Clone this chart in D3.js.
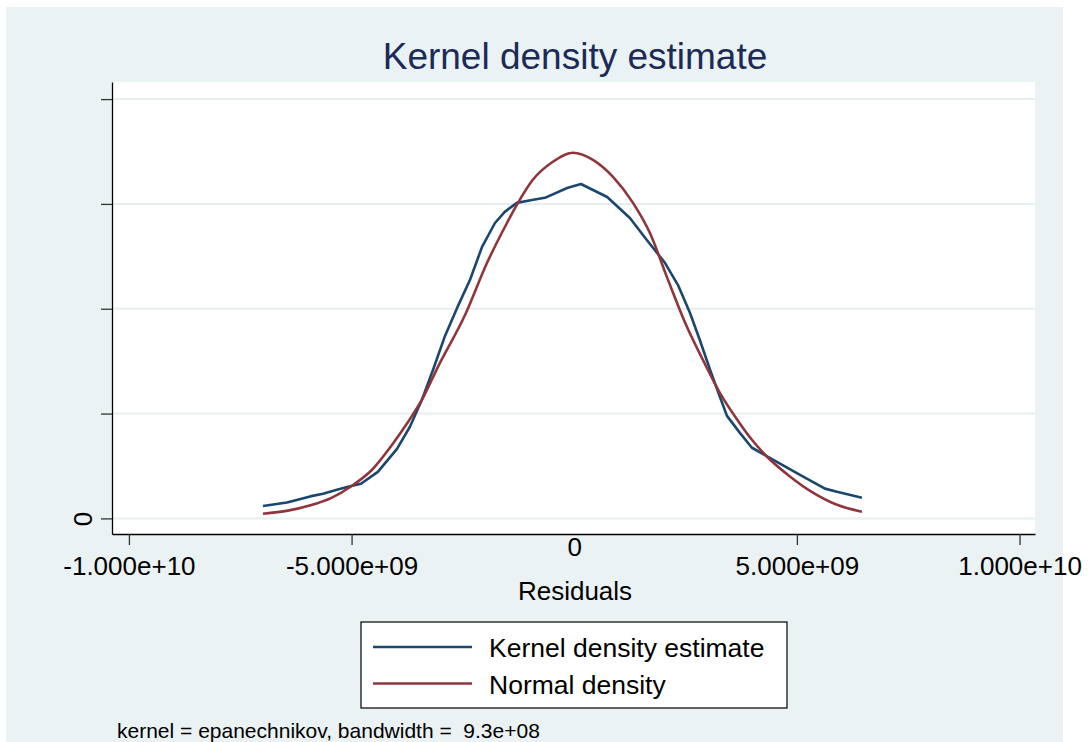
<!DOCTYPE html>
<html>
<head>
<meta charset="utf-8">
<script src="https://cdn.jsdelivr.net/npm/d3@7"></script>
<style>
  body { margin: 0; background: #ffffff; }
  svg text { font-family: "Liberation Sans", Arial, sans-serif; }
</style>
</head>
<body>
<div id="chart"></div>
<script>
// Kernel density estimate (epanechnikov)
const kdeResid = [-6.99e9, -6.45e9, -5.93e9, -5.64e9, -5.33e9, -5.08e9, -4.79e9, -4.41e9, -3.98e9, -3.69e9,
  -3.42e9, -3.17e9, -2.91e9, -2.63e9, -2.34e9, -2.07e9, -1.78e9, -1.56e9, -1.29e9, -0.95e9,
  -0.66e9, -0.16e9, 0.15e9, 0.74e9, 1.25e9, 1.63e9, 2.04e9, 2.33e9, 2.60e9, 2.82e9,
  3.05e9, 3.27e9, 3.43e9, 3.72e9, 3.99e9, 4.55e9, 5.07e9, 5.63e9, 5.90e9, 6.46e9];
const kdeDensity = [0.59e-11, 0.76e-11, 1.05e-11, 1.18e-11, 1.37e-11, 1.51e-11, 1.65e-11, 2.22e-11, 3.32e-11, 4.37e-11,
  5.66e-11, 7.09e-11, 8.66e-11, 10.04e-11, 11.38e-11, 12.95e-11, 14.09e-11, 14.62e-11, 15.05e-11, 15.19e-11,
  15.29e-11, 15.76e-11, 15.95e-11, 15.33e-11, 14.33e-11, 13.28e-11, 12.18e-11, 11.13e-11, 9.80e-11, 8.51e-11,
  7.09e-11, 5.80e-11, 4.89e-11, 4.08e-11, 3.37e-11, 2.70e-11, 2.08e-11, 1.42e-11, 1.27e-11, 0.99e-11];

// Normal density
const normResid = [-6.99e9, -6.43e9, -5.94e9, -5.44e9, -4.99e9, -4.54e9, -4.09e9, -3.73e9, -3.42e9, -3.06e9,
  -2.45e9, -1.96e9, -1.51e9, -1.29e9, -0.93e9, -0.48e9, -0.03e9, 0.42e9, 0.87e9, 1.32e9,
  1.70e9, 2.08e9, 2.53e9, 2.89e9, 3.27e9, 3.68e9, 3.99e9, 4.33e9, 4.85e9, 5.36e9,
  5.90e9, 6.46e9];
const normDensity = [0.22e-11, 0.37e-11, 0.61e-11, 0.99e-11, 1.56e-11, 2.32e-11, 3.51e-11, 4.61e-11, 5.66e-11, 7.23e-11,
  9.71e-11, 12.18e-11, 14.09e-11, 14.95e-11, 16.15e-11, 17.01e-11, 17.44e-11, 17.10e-11, 16.29e-11, 15.05e-11,
  13.61e-11, 11.52e-11, 9.14e-11, 7.56e-11, 5.99e-11, 4.65e-11, 3.75e-11, 2.94e-11, 1.99e-11, 1.23e-11,
  0.65e-11, 0.32e-11];

const xTicks = [-1e10, -5e9, 0, 5e9, 1e10];
const xTickLabels = ['-1.000e+10', '-5.000e+09', '0', '5.000e+09', '1.000e+10'];
const yTicks = [0, 5e-11, 10e-11, 15e-11, 20e-11];
const yTickLabels = ['0', '', '', '', ''];

const seriesNames = ['Kernel density estimate', 'Normal density'];
const titleText = 'Kernel density estimate';
const xTitle = 'Residuals';
const noteText = 'kernel = epanechnikov, bandwidth =  9.3e+08';

const width = 1091;
const height = 742;
const plot = { left: 112, right: 1035, top: 82, bottom: 534 };
const colors = ['#1a476f', '#90353b'];
const bgColor = '#eaf2f3';

const svg = d3.select('#chart')
  .append('svg')
  .attr('width', width)
  .attr('height', height);

// outer background
svg.append('rect')
  .attr('x', 6)
  .attr('y', 7)
  .attr('width', 1063 - 6)
  .attr('height', height - 7)
  .attr('fill', bgColor);

// plot region
svg.append('rect')
  .attr('x', plot.left)
  .attr('y', plot.top)
  .attr('width', plot.right - plot.left)
  .attr('height', plot.bottom - plot.top)
  .attr('fill', 'white');

const xScale = d3.scaleLinear()
  .domain([-10.38e9, 10.347e9])
  .range([plot.left, plot.right]);

const yScale = d3.scaleLinear()
  .domain([-0.744e-11, 20.815e-11])
  .range([plot.bottom, plot.top]);

// gridlines
svg.append('g')
  .selectAll('line')
  .data(yTicks)
  .enter()
  .append('line')
  .attr('x1', plot.left + 1)
  .attr('x2', plot.right)
  .attr('y1', d => yScale(d))
  .attr('y2', d => yScale(d))
  .attr('stroke', '#e6eef0')
  .attr('stroke-width', 2);

// x axis
const xAxis = svg.append('g')
  .attr('transform', `translate(0, ${plot.bottom})`)
  .call(d3.axisBottom(xScale)
    .tickValues(xTicks)
    .tickFormat((d, i) => xTickLabels[i])
    .tickSize(11)
    .tickSizeOuter(0));

xAxis.select('.domain').attr('stroke', '#000').attr('stroke-width', 1.3);
xAxis.selectAll('.tick line')
  .attr('stroke', '#333')
  .attr('stroke-width', 1.3)
  .attr('y2', d => d === 0 ? 0 : 11);
xAxis.selectAll('.tick text')
  .attr('y', d => d === 0 ? 22 : 41)
  .attr('dy', null)
  .attr('font-size', 26)
  .attr('fill', '#000');

// y axis
const yAxis = svg.append('g')
  .attr('transform', `translate(${plot.left}, 0)`)
  .call(d3.axisLeft(yScale)
    .tickValues(yTicks)
    .tickFormat((d, i) => yTickLabels[i])
    .tickSize(11)
    .tickSizeOuter(0));

yAxis.select('.domain').attr('stroke', '#000').attr('stroke-width', 1.3);
yAxis.selectAll('.tick line').attr('stroke', '#333').attr('stroke-width', 1.3);
yAxis.selectAll('.tick text')
  .attr('x', 0)
  .attr('dy', null)
  .attr('text-anchor', 'middle')
  .attr('transform', 'translate(-20, 0) rotate(-90)')
  .attr('font-size', 26)
  .attr('fill', '#000');

// curves
const kdeData = kdeResid.map((r, i) => ({ x: r, y: kdeDensity[i] }));
const normData = normResid.map((r, i) => ({ x: r, y: normDensity[i] }));

const kdeLine = d3.line()
  .x(d => xScale(d.x))
  .y(d => yScale(d.y));

const normLine = d3.line()
  .curve(d3.curveMonotoneX)
  .x(d => xScale(d.x))
  .y(d => yScale(d.y));

svg.append('path')
  .datum(kdeData)
  .attr('d', kdeLine)
  .attr('fill', 'none')
  .attr('stroke', colors[0])
  .attr('stroke-width', 2.6)
  .attr('stroke-linejoin', 'round');

svg.append('path')
  .datum(normData)
  .attr('d', normLine)
  .attr('fill', 'none')
  .attr('stroke', colors[1])
  .attr('stroke-width', 2.6)
  .attr('stroke-linejoin', 'round');

// title
svg.append('text')
  .attr('x', 575)
  .attr('y', 69)
  .attr('text-anchor', 'middle')
  .attr('font-size', 37)
  .attr('fill', '#1c2a57')
  .text(titleText);

// x axis title
svg.append('text')
  .attr('x', 575)
  .attr('y', 600)
  .attr('text-anchor', 'middle')
  .attr('font-size', 26)
  .attr('fill', '#000')
  .text(xTitle);

// legend
const legend = svg.append('g');

legend.append('rect')
  .attr('x', 361)
  .attr('y', 622)
  .attr('width', 787 - 361)
  .attr('height', 708 - 622)
  .attr('fill', 'white')
  .attr('stroke', '#000')
  .attr('stroke-width', 1.2);

seriesNames.forEach((name, i) => {
  const ly = 647 + i * 36.5;
  legend.append('line')
    .attr('x1', 373)
    .attr('x2', 472)
    .attr('y1', ly)
    .attr('y2', ly)
    .attr('stroke', colors[i])
    .attr('stroke-width', 2.6);

  legend.append('text')
    .attr('x', 489)
    .attr('y', ly + 10)
    .attr('font-size', 26.5)
    .attr('fill', '#000')
    .text(name);
});

// note
svg.append('text')
  .attr('x', 117)
  .attr('y', 738)
  .attr('font-size', 21)
  .attr('fill', '#000')
  .style('white-space', 'pre')
  .text(noteText);
</script>
</body>
</html>
